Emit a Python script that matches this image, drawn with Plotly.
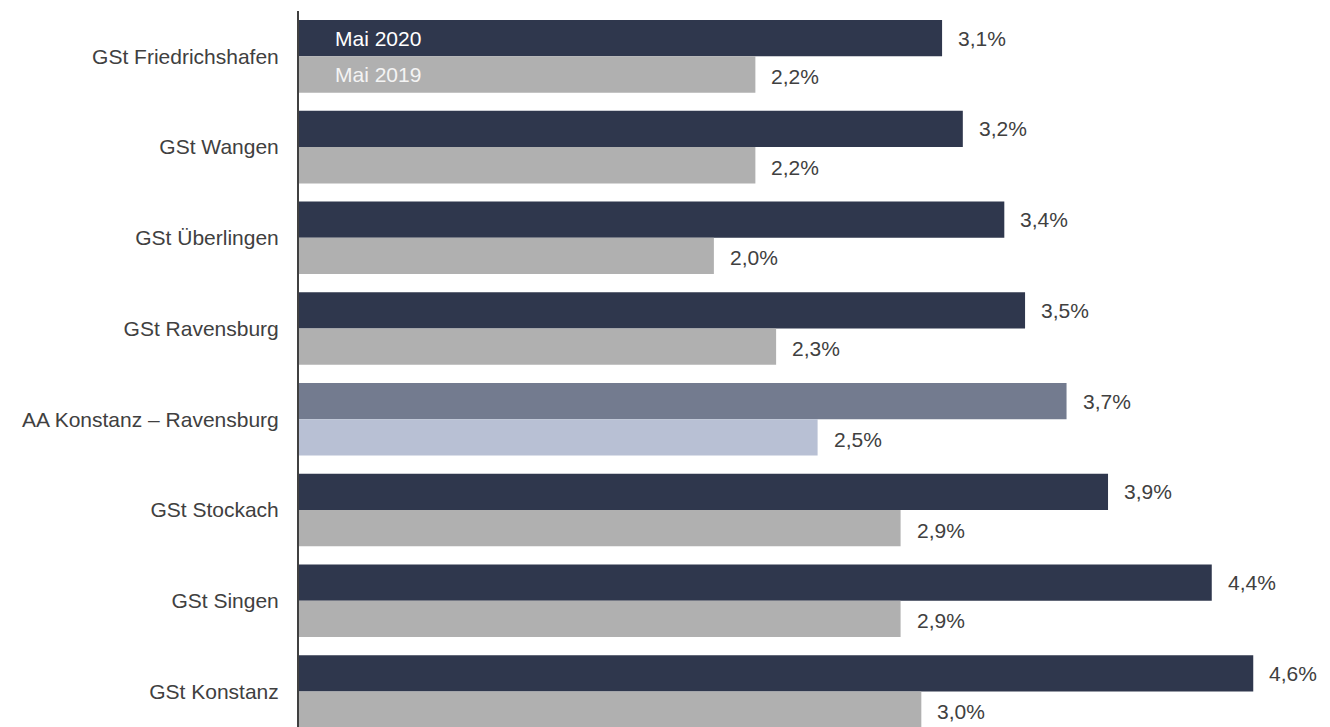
import plotly.graph_objects as go

categories = ["GSt Friedrichshafen", "GSt Wangen", "GSt Überlingen", "GSt Ravensburg",
              "AA Konstanz – Ravensburg", "GSt Stockach", "GSt Singen", "GSt Konstanz"]
values_2020 = [3.1, 3.2, 3.4, 3.5, 3.7, 3.9, 4.4, 4.6]
values_2019 = [2.2, 2.2, 2.0, 2.3, 2.5, 2.9, 2.9, 3.0]
series_names = ["Mai 2020", "Mai 2019"]
highlight = "AA Konstanz – Ravensburg"

def fmt(v):
    return f"{v:.1f}".replace(".", ",") + "%"

c20 = ["#737B8F" if c == highlight else "#2F374D" for c in categories]
c19 = ["#B8C0D4" if c == highlight else "#B0B0B0" for c in categories]

FONT = "Liberation Sans, Arial, sans-serif"
TXT = "#404040"
FS = 21

fig = go.Figure()
for name, vals, cols in [(series_names[0], values_2020, c20), (series_names[1], values_2019, c19)]:
    fig.add_trace(go.Bar(
        y=categories, x=vals, orientation="h", name=name,
        marker=dict(color=cols, line=dict(width=0)),
        hoverinfo="skip",
    ))

# value labels next to bar ends (offset to each bar of the group)
for off, ys, vals in [(-0.2, 0, values_2020), (0.2, -2, values_2019)]:
    for i, v in enumerate(vals):
        fig.add_annotation(x=v, y=i + off, xref="x", yref="y", text=fmt(v), showarrow=False,
                           xanchor="left", xshift=14, yshift=ys,
                           font=dict(family=FONT, size=FS, color=TXT))

# series labels inside first category bars
fig.add_annotation(x=0, y=-0.2, xref="x", yref="y", text=series_names[0], showarrow=False,
                   xanchor="left", xshift=34, font=dict(family=FONT, size=FS, color="#FFFFFF"))
fig.add_annotation(x=0, y=0.2, xref="x", yref="y", text=series_names[1], showarrow=False,
                   xanchor="left", xshift=34, font=dict(family=FONT, size=FS, color="#F4F4F4"))

fig.update_layout(
    width=1330, height=727,
    margin=dict(l=299, r=0, t=11, b=0),
    barmode="group", bargap=0.2, bargroupgap=0,
    plot_bgcolor="white", paper_bgcolor="white",
    showlegend=False,
    font=dict(family=FONT, size=FS, color=TXT),
)
fig.update_xaxes(range=[0, 4.97], visible=False, showgrid=False, zeroline=False)
fig.update_yaxes(type="category", range=[7.392, -0.5], showgrid=False, zeroline=False,
                 showline=True, linecolor="#404040", linewidth=2,
                 ticks="", ticklabelstandoff=14,
                 tickfont=dict(family=FONT, size=FS, color=TXT))

fig.write_html("out.html")
